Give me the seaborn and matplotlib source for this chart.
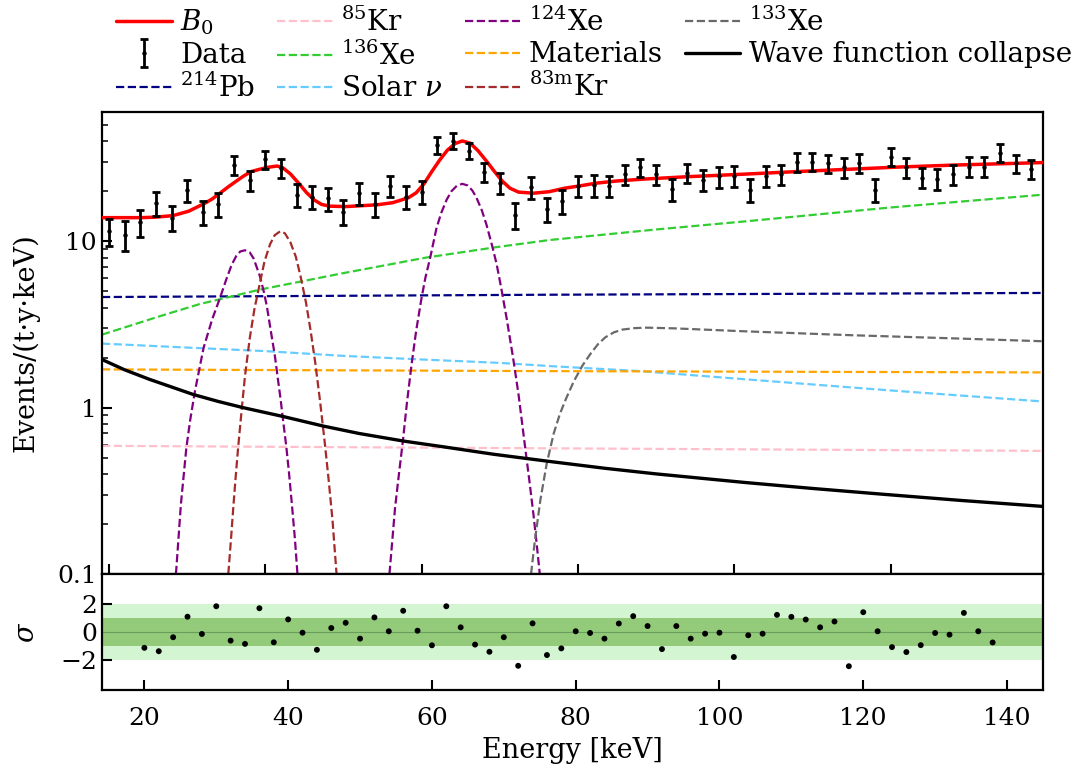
import numpy as np
import matplotlib
matplotlib.use("Agg")
import matplotlib.pyplot as plt
import seaborn as sns
from matplotlib.ticker import FixedLocator, LogLocator, NullFormatter, FixedFormatter

# ---------------- data ----------------
bin_energy = np.arange(20, 140, 2)          # 60 energy bins [keV]
data_rate = [11.5, 11.0, 13.1, 17.0, 13.9, 20.4, 15.1, 16.8, 28.9, 23.4,
             31.2, 27.6, 19.0, 18.5, 18.2, 15.1, 19.5, 16.8, 21.6, 18.6,
             19.9, 38.0, 40.4, 35.2, 26.3, 22.6, 14.5, 21.2, 15.7, 17.6,
             21.6, 21.9, 21.6, 25.4, 27.9, 25.4, 20.6, 25.9, 23.4, 24.6,
             24.9, 20.4, 24.9, 25.4, 30.2, 30.2, 29.5, 27.9, 29.8, 20.4,
             32.4, 27.9, 24.2, 23.7, 25.4, 28.2, 28.2, 34.2, 29.5, 27.2]
data_err = [2.1, 2.2, 2.4, 2.7, 2.4, 3.1, 2.5, 2.8, 3.7, 3.2,
            3.9, 3.6, 3.0, 2.9, 2.9, 2.6, 2.9, 2.8, 3.2, 3.0,
            3.1, 4.4, 4.4, 4.0, 3.5, 3.2, 2.6, 3.2, 2.6, 2.9,
            3.1, 3.3, 3.2, 3.5, 3.4, 3.5, 3.0, 3.5, 3.4, 3.5,
            3.6, 3.2, 3.6, 3.5, 3.9, 3.7, 3.8, 3.7, 3.9, 3.2,
            4.0, 3.7, 3.3, 3.4, 3.6, 3.8, 3.8, 4.2, 3.8, 3.6]
residual_sigma = [-1.12, -1.36, -0.37, 1.08, -0.14, 1.82, -0.61, -0.84, 1.68, -0.73,
                  0.89, -0.05, -1.26, 0.28, 0.65, -0.47, 1.03, 0.05, 1.50, 0.09,
                  -0.94, 1.82, 0.33, -0.89, -1.40, -0.37, -2.39, 0.61, -1.63, -1.16,
                  0.05, -0.07, -0.47, 0.60, 1.12, 0.42, -1.21, 0.42, -0.47, -0.12,
                  -0.05, -1.77, -0.23, -0.12, 1.21, 1.07, 0.88, 0.33, 0.74, -2.42,
                  1.40, 0.05, -1.07, -1.42, -0.93, -0.07, -0.19, 1.35, 0.05, -0.74]

b0_E = [19.1, 22.0, 24.2, 26.0, 28.2, 30.2, 32.2, 33.2, 34.2, 35.2, 36.2, 37.2,
        38.2, 39.2, 40.3, 41.5, 42.2, 43.2, 44.3, 45.3, 46.3, 47.2, 48.2, 50.3,
        54.3, 56.3, 58.3, 59.3, 60.3, 61.3, 62.3, 63.3, 64.3, 65.2, 66.2, 67.2,
        68.3, 69.3, 70.3, 71.3, 72.4, 74.3, 76.3, 78.3, 80.3, 82.3, 85.0, 88.4,
        94.0, 101.4, 108.0, 114.9, 121.0, 128.3, 134.0, 139.5]
b0_rate = [13.9, 13.9, 13.9, 14.0, 14.3, 15.2, 16.9, 18.0, 19.5, 21.2, 22.9, 24.7,
           26.3, 27.1, 27.9, 28.4, 27.8, 25.5, 22.3, 19.6, 17.7, 16.7, 16.3, 16.2,
           16.6, 17.1, 18.3, 19.6, 22.2, 26.3, 30.8, 35.4, 38.8, 40.2, 39.0, 35.2,
           30.4, 26.4, 23.1, 20.9, 19.8, 19.5, 19.9, 20.9, 21.6, 22.4, 23.1, 23.7,
           24.5, 25.4, 26.3, 27.2, 28.0, 28.8, 29.3, 29.8]

pb214_E = [19.1, 76.0, 139.5]
pb214_rate = [4.63, 4.78, 4.9]
kr85_E = [19.1, 76.0, 139.5]
kr85_rate = [0.59, 0.57, 0.55]
xe136_E = [19.1, 26.5, 31.6, 39.3, 50.0, 60.6, 70.0, 76.4, 90.0, 101.4, 120.0, 139.5]
xe136_rate = [2.75, 3.55, 4.2, 5.13, 6.45, 8.0, 9.3, 10.2, 11.8, 13.2, 16.0, 19.1]
solar_E = [19.1, 30.0, 40.0, 50.0, 60.0, 70.0, 76.4, 88.0, 100.0, 120.0, 139.5]
solar_rate = [2.43, 2.30, 2.19, 2.05, 1.95, 1.86, 1.78, 1.66, 1.50, 1.27, 1.09]
mat_E = [19.1, 76.0, 139.5]
mat_rate = [1.70, 1.66, 1.63]
wfc_E = [19.1, 22.0, 25.2, 30.8, 34.0, 37.2, 42.3, 47.4, 52.0, 57.7, 63.0, 69.2,
         76.4, 83.5, 90.0, 101.4, 110.0, 119.3, 129.0, 139.5]
wfc_rate = [1.95, 1.69, 1.48, 1.20, 1.09, 1.0, 0.885, 0.776, 0.70, 0.63, 0.58, 0.525,
            0.475, 0.432, 0.400, 0.355, 0.327, 0.301, 0.277, 0.255]

xe124a_E = [28.4, 28.6, 29.2, 29.9, 30.4, 31.0, 32.1, 33.2, 34.2, 35.0, 35.7, 36.3,
            36.8, 37.4, 38.0, 38.5, 39.3, 39.8, 40.2, 40.7, 41.2, 41.6, 41.96, 42.3,
            42.7, 43.0, 43.4, 43.8, 44.1, 44.3]
xe124a_rate = [0.085, 0.105, 0.263, 0.575, 0.85, 1.26, 2.29, 3.4, 4.57, 5.9, 7.24, 8.2,
               8.7, 8.85, 8.6, 7.9, 6.2, 5.0, 4.07, 2.9, 2.09, 1.5, 1.12, 0.82,
               0.575, 0.42, 0.263, 0.16, 0.102, 0.085]
kr83m_E = [35.1, 35.3, 35.6, 35.9, 36.2, 36.5, 37.0, 37.4, 38.0, 38.6, 39.3, 39.9,
           40.6, 41.2, 41.9, 42.5, 43.2, 43.9, 44.5, 45.2, 45.8, 46.4, 47.0, 47.6,
           48.1, 48.6, 49.1, 49.3]
kr83m_rate = [0.085, 0.105, 0.16, 0.25, 0.38, 0.56, 1.0, 1.55, 2.6, 3.9, 5.6, 7.6,
              9.6, 10.9, 11.5, 11.2, 9.9, 8.1, 6.2, 4.3, 2.9, 1.85, 1.1, 0.62,
              0.37, 0.21, 0.102, 0.085]
xe124b_E = [55.8, 55.9, 56.3, 56.6, 57.1, 57.6, 58.1, 58.7, 59.3, 60.0, 60.5, 61.1,
            61.5, 61.9, 62.5, 63.2, 63.8, 64.5, 65.2, 65.9, 66.5, 67.0, 67.7, 68.3,
            69.0, 69.6, 70.2, 70.9, 71.7, 72.4, 73.2, 73.8, 74.3, 74.7, 75.1, 75.3]
xe124b_rate = [0.085, 0.102, 0.17, 0.25, 0.40, 0.63, 1.05, 1.8, 2.9, 4.6, 6.1, 8.0,
               9.8, 12.0, 14.8, 17.8, 20.0, 21.6, 22.2, 21.7, 20.2, 18.4, 15.4, 12.6,
               9.5, 7.3, 5.2, 3.4, 2.0, 1.2, 0.60, 0.36, 0.23, 0.155, 0.102, 0.085]
xe133_E = [73.9, 74.0, 74.5, 75.2, 76.0, 76.9, 77.7, 78.5, 79.5, 80.6, 81.7, 82.6,
           83.5, 84.6, 85.7, 87.2, 88.8, 92.4, 101.4, 114.9, 128.3, 139.5]
xe133_rate = [0.085, 0.1, 0.16, 0.28, 0.46, 0.70, 0.92, 1.14, 1.45, 1.80, 2.14, 2.42,
              2.65, 2.84, 2.95, 3.01, 3.03, 3.0, 2.88, 2.73, 2.61, 2.51]

legend_labels = ["$B_0$", "Data", "$^{214}$Pb", "$^{85}$Kr", "$^{136}$Xe",
                 r"Solar $\nu$", "$^{124}$Xe", "Materials", r"$^{\mathrm{83m}}$Kr",
                 "$^{133}$Xe", "Wave function collapse"]

# ---------------- style ----------------
sns.set_theme(style="ticks")
plt.rcParams.update({
    "font.family": ["DejaVu Serif"],
    "mathtext.fontset": "dejavuserif",
    "text.color": "black",
    "axes.labelcolor": "black",
    "axes.edgecolor": "black",
    "xtick.color": "black",
    "ytick.color": "black",
    "axes.linewidth": 1.6,
    "xtick.direction": "in",
    "ytick.direction": "in",
    "xtick.major.size": 7,
    "ytick.major.size": 7,
    "xtick.major.width": 1.5,
    "ytick.major.width": 1.5,
    "ytick.minor.size": 4,
    "ytick.minor.width": 1.1,
    "xtick.labelsize": 18,
    "ytick.labelsize": 18,
    "axes.labelsize": 19.5,
})

fig = plt.figure(figsize=(10.79, 7.71), dpi=100)
ax = fig.add_axes([0.0945, 0.2555, 0.8721, 0.5992])
axr = fig.add_axes([0.0945, 0.1051, 0.8721, 0.1504])

ax.set_yscale("log")


def draw(axis, x, y, **kw):
    sns.lineplot(x=x, y=y, ax=axis, estimator=None, sort=False, legend=False, **kw)
    line = axis.lines[-1]
    line.set_solid_joinstyle("round")
    line.set_dash_joinstyle("round")
    return line


dash = dict(linestyle="--", linewidth=1.6)
h_pb = draw(ax, pb214_E, pb214_rate, color="navy", **dash)
h_kr85 = draw(ax, kr85_E, kr85_rate, color="pink", **dash)
h_xe136 = draw(ax, xe136_E, xe136_rate, color="limegreen", **dash)
h_solar = draw(ax, solar_E, solar_rate, color="#66ccff", **dash)
h_mat = draw(ax, mat_E, mat_rate, color="orange", **dash)
h_xe124 = draw(ax, xe124a_E, xe124a_rate, color="purple", **dash)
draw(ax, xe124b_E, xe124b_rate, color="purple", **dash)
h_kr83 = draw(ax, kr83m_E, kr83m_rate, color="brown", **dash)
h_xe133 = draw(ax, xe133_E, xe133_rate, color="dimgray", **dash)
h_wfc = draw(ax, wfc_E, wfc_rate, color="black", linewidth=2.4)
h_b0 = draw(ax, b0_E, b0_rate, color="red", linewidth=2.5)
h_b0.set_zorder(4)
h_data = ax.errorbar(bin_energy, data_rate, yerr=data_err, fmt="o", ms=2.2,
                     color="black", ecolor="black", elinewidth=2.0, capsize=3,
                     capthick=2.0, zorder=5)

ax.set_xlim(19.1, 139.5)
ax.set_ylim(0.1, 60)
ax.xaxis.set_major_locator(FixedLocator([20, 40, 60, 80, 100, 120]))
ax.tick_params(axis="x", labelbottom=False, top=False)
ax.tick_params(axis="y", right=False)
ax.yaxis.set_major_locator(FixedLocator([0.1, 1, 10]))
ax.yaxis.set_major_formatter(FixedFormatter(["0.1", "1", "10"]))
ax.yaxis.set_minor_locator(LogLocator(base=10, subs=np.arange(2, 10)))
ax.yaxis.set_minor_formatter(NullFormatter())
ax.set_ylabel("Events/(t·y·keV)")
ax.yaxis.set_label_coords(-0.066, 0.5)

# ---------------- residual panel ----------------
axr.axhspan(-2, 2, color="#d3f5d1", lw=0, zorder=0)
axr.axhspan(-1, 1, color="#93cb7b", lw=0, zorder=1)
axr.axhline(0, color="#6a9c5c", lw=0.8, zorder=2)
sns.scatterplot(x=bin_energy, y=residual_sigma, ax=axr, color="black", s=18,
                edgecolor="none", zorder=3, legend=False)
axr.set_xlim(14.1, 145)
axr.set_ylim(-4.1, 4.1)
axr.xaxis.set_major_locator(FixedLocator([20, 40, 60, 80, 100, 120, 140]))
axr.yaxis.set_major_locator(FixedLocator([-2, 0, 2]))
axr.tick_params(axis="x", top=False, pad=12)
axr.tick_params(axis="y", right=False)
axr.set_xlabel("Energy [keV]", labelpad=5)
axr.set_ylabel(r"$\sigma$")
axr.yaxis.set_label_coords(-0.066, 0.5)

# ---------------- legend ----------------
handles = [h_b0, h_data, h_pb, h_kr85, h_xe136, h_solar, h_xe124, h_mat, h_kr83,
           h_xe133, h_wfc]
fig.legend(handles, legend_labels, ncol=4, loc="upper left",
           bbox_to_anchor=(0.105, 0.994), frameon=False, fontsize=20,
           handlelength=2.0, handletextpad=0.3, columnspacing=0.8,
           labelspacing=0.17, borderaxespad=0.0, borderpad=0.1)

fig.savefig("out.png", dpi=100)
